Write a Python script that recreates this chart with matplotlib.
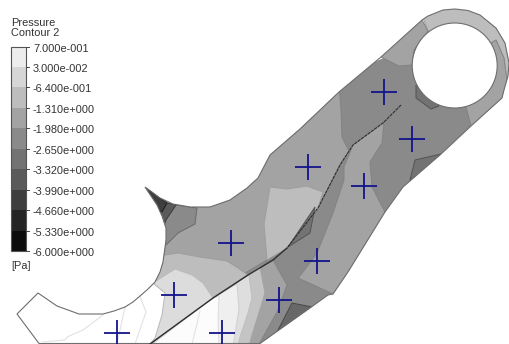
import matplotlib
matplotlib.use("Agg")
import matplotlib.pyplot as plt
from matplotlib.patches import Polygon, Circle

plt.rcParams['font.family'] = ['Liberation Sans', 'DejaVu Sans']

# legend
level_labels = ["7.000e-001", "3.000e-002", "-6.400e-001", "-1.310e+000", "-1.980e+000", "-2.650e+000",
                "-3.320e+000", "-3.990e+000", "-4.660e+000", "-5.330e+000", "-6.000e+000"]
band_greys = ["#ededed", "#d6d6d6", "#bdbdbd", "#a3a3a3", "#8a8a8a", "#737373", "#5a5a5a", "#3e3e3e", "#242424", "#0c0c0c"]

# geometry (pixel-space)
outline = [(17,314),(38,293),(57,306),(79,314),(103,314),(114,311),(125,307),(133,302),(140,296),(148,289),(155,282),
           (160,272),(163,262),(166,240),(166,228),(162,216),(157,205),(151,196),(145,187),(152,192),(160,198),
           (173,204),(190,207),(210,207),(230,200),(247,188),(258,178),(270,155),
           (300,129),(339,92),(381,57),(422,20),(428,16),(443,10),(455,9),(468,10.5),(480,15),(496,28),(505,43),(509,63),
           (508,76),(504,90),(502,98),(471,126),(440,155),(403,187),(385,212),(348,272),(333,294),(328,295),(310,308),
           (260,343.5),(39,343.5)]
hole_centre = (454.7, 65.5)
hole_radius = 42.5
crack_upper = [(401,105),(383,123),(353,145),(340,165),(318,208),(287,248)]
crack_lower = [(287,248),(273,260),(248,275),(213,298),(150,344)]

body = [(130,170),(515,0),(515,350),(150,350),(155,338),(162,315),(165,293),(153,283),(130,270)]
upper_left = [(339,85),(341,110),(342,137),(349,151),(340,165),(318,208),(287,248),(200,300),(175,290),(153,282),(140,265),(100,200),(300,100)]
mid_light = [(270,187),(287,189),(307,186),(323,192),(318,208),(287,248),(267,260),(264,224)]
crack_patch = [(315,207),(310,233),(288,247)]
strip_right = [(384,122),(382,143),(370,162),(372,187),(385,212),(360,260),(333,294),(298,278),(303,272),(317,253),
               (333,213),(344,180),(344,167),(353,145)]
hole_patch = [(416,85),(416,98),(431,109),(439,106),(430,90)]
edge_patch = [(415,160),(410,180),(445,158),(441,154)]
ring_top = [(420,10),(428,31),(455,65),(496,40),(504,58),(507,82),(520,82),(520,0),(420,0)]
ring_right = [(496,40),(504,58),(507,80),(515,100),(471,126),(466,107),(455,65)]
ring_left = [(422,20),(428,31),(414,50),(412,65),(399,66),(381,57),(375,50),(415,10)]
tip_mid = [(176,205),(197,208),(195,224),(178,233),(166,245),(160,245),(160,215)]
tip_dark2 = [(167,203),(176,205),(166,220),(163,228),(155,215)]
tip_dark = [(140,183),(167,203),(162,212),(150,205)]
low_band1 = [(273,260),(287,285),(277,312),(258,346),(150,346),(213,298),(248,275)]
low_dark = [(292,303),(312,307),(260,345),(277,332)]
low_band2 = [(260,267),(265,293),(252,335),(249,346),(150,346),(213,298)]
low_band3 = [(249,275),(252,298),(248,313),(240,337),(238,346),(150,346),(213,298)]
low_band4 = [(237,284),(239,309),(233,346),(150,346),(213,298)]
low_band5 = [(219,296),(218,320),(219,346),(150,346),(213,298)]
up_band1 = [(160,255),(165,255),(178,253),(200,257),(227,261),(238,268),(248,275),(213,298),(175,300),(153,283),(150,270)]
up_band2 = [(153,283),(175,269),(192,275),(203,283),(213,298),(150,344),(155,338),(162,315),(165,293)]
faint_a = [(125,307),(117,344)]
faint_b = [(140,296),(146,312),(135,344)]
faint_c = [(103,315),(83,330),(67,337),(65,340),(43,342)]
faint_d = [(200,311),(192,344)]

# probe crosshairs
probe_x = [117, 174, 222, 231, 279, 317, 308, 364, 384, 412]
probe_y = [333, 295, 333, 243, 300, 261, 167, 186, 92, 139]

regions = [(upper_left, "#a3a3a3"), (mid_light, "#bdbdbd"), (crack_patch, "#737373"), (strip_right, "#a3a3a3"),
           (hole_patch, "#737373"), (edge_patch, "#737373"), (ring_top, "#bdbdbd"), (ring_right, "#a3a3a3"),
           (ring_left, "#a3a3a3"), (tip_mid, "#8a8a8a"), (tip_dark2, "#5a5a5a"), (tip_dark, "#3e3e3e"),
           (low_band1, "#a3a3a3"), (low_dark, "#686868"), (low_band2, "#c4c4c4"), (low_band3, "#dedede"),
           (low_band4, "#efefef"), (low_band5, "#fcfcfc"), (up_band1, "#bdbdbd"), (up_band2, "#dcdcdc")]

fig = plt.figure(figsize=(5.09, 3.44), dpi=100, facecolor="white")
ax = fig.add_axes([0, 0, 1, 1])
ax.set_xlim(0, 509)
ax.set_ylim(344, 0)
ax.axis("off")

clip = Polygon(outline, closed=True, transform=ax.transData, facecolor="white", edgecolor="none", zorder=1)
ax.add_patch(clip)


def darker(col, amount=32):
    v = max(int(col[1:3], 16) - amount, 0)
    return f"#{v:02x}{v:02x}{v:02x}"


b = Polygon(body, closed=True, facecolor="#8a8a8a", edgecolor="none", zorder=2)
ax.add_patch(b)
b.set_clip_path(clip)
for i, (pts, col) in enumerate(regions):
    p = Polygon(pts, closed=True, facecolor=col, edgecolor=darker(col), linewidth=0.7, zorder=3 + i * 0.01)
    ax.add_patch(p)
    p.set_clip_path(clip)

for pts in (faint_a, faint_b, faint_c, faint_d):
    ax.plot(*zip(*pts), color="#e2e2e2", lw=0.8, zorder=4)

ax.add_patch(Polygon(outline, closed=True, facecolor="none", edgecolor="#6e6e6e", linewidth=0.8, zorder=5))
ax.add_patch(Circle(hole_centre, hole_radius, facecolor="white", edgecolor="#6e6e6e", linewidth=0.8, zorder=5))
ax.plot(*zip(*crack_upper), color="#2e2e2e", lw=0.8, ls=(0, (3, 0.7)), zorder=6)
ax.plot(*zip(*crack_lower), color="#2e2e2e", lw=1.0, zorder=6)
ax.scatter(probe_x, probe_y, marker="+", s=340, color="#14148c", linewidths=1.3, zorder=7)

# colour legend
top, bottom, left, right = 46.5, 251, 11, 26
h = (bottom - top) / len(band_greys)
for i, g in enumerate(band_greys):
    ax.fill_between([left, right], top + i * h, top + (i + 1) * h, color=g, lw=0, zorder=2)
ax.add_patch(plt.Rectangle((left, top), right - left, bottom - top, fill=False, edgecolor="#555555", lw=0.8, zorder=3))
for i, lab in enumerate(level_labels):
    y = top + i * h
    ax.plot([right, right + 3], [y, y], color="#444444", lw=0.7, zorder=3)
    ax.text(33, y + 2, lab, fontsize=7.9, color="#333333", va="center", ha="left")
ax.text(11, 22.5, "Pressure", fontsize=7.9, color="#333333", va="center", ha="left")
ax.text(11, 33, "Contour 2", fontsize=7.9, color="#333333", va="center", ha="left")
ax.text(11, 266, "[Pa]", fontsize=7.9, color="#333333", va="center", ha="left")

fig.savefig("out.png", dpi=100)
